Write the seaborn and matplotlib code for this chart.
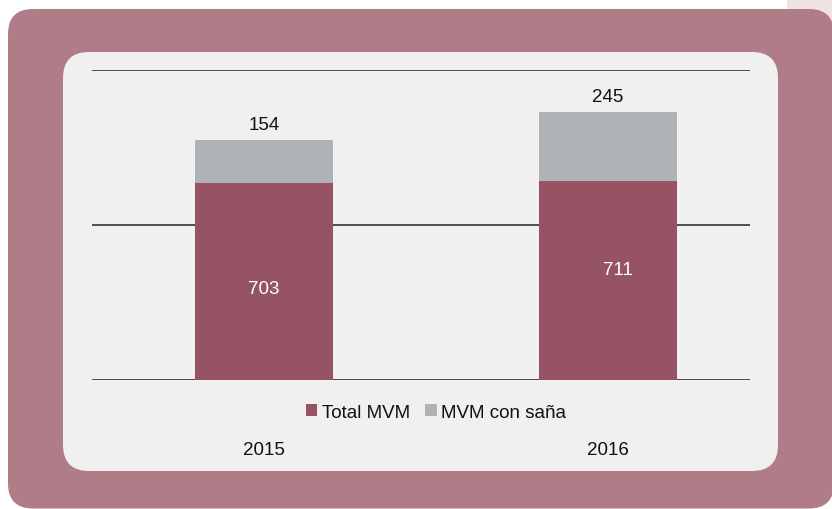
import matplotlib
matplotlib.use("Agg")
import matplotlib.pyplot as plt
import seaborn as sns
import pandas as pd
from matplotlib import font_manager
from matplotlib.patches import FancyBboxPatch, Rectangle, Patch

# ===========================
# Data
# ===========================
years = ["2015", "2016"]
total_mvm = [703, 711]
mvm_con_sana = [154, 245]
series_names = ["Total MVM", "MVM con saña"]

df = pd.DataFrame({"year": years, "total": total_mvm, "sana": mvm_con_sana})
df["stack"] = df["total"] + df["sana"]

# ===========================
# Style
# ===========================
RED = "#955364"
GRAY = "#b0b3b5"
OUTER = "#b07c87"
INNER = "#f0f0f0"
PINK = "#efe3e6"
TXT = "#111111"

sns.set_style("white")
installed = {f.name for f in font_manager.fontManager.ttflist}
if "Liberation Sans Narrow" in installed:
    plt.rcParams["font.family"] = ["Liberation Sans Narrow", "DejaVu Sans"]
    FS = 17
else:
    plt.rcParams["font.family"] = ["Liberation Sans", "DejaVu Sans"]
    FS = 13.5
plt.rcParams["text.color"] = TXT
plt.rcParams["xtick.color"] = TXT

fig = plt.figure(figsize=(8.32, 5.10), dpi=100)
fig.patch.set_facecolor("white")

# background panels (inches, origin bottom-left)
tr = fig.dpi_scale_trans
fig.patches.append(Rectangle((7.87, 4.7), 0.5, 0.5, transform=tr,
                             facecolor=PINK, edgecolor="none", zorder=-3))
fig.patches.append(FancyBboxPatch((0.08, 0.005), 8.26, 4.995,
                                  boxstyle="round,pad=0,rounding_size=0.25",
                                  transform=tr, facecolor=OUTER,
                                  edgecolor="none", zorder=-2))
fig.patches.append(FancyBboxPatch((0.63, 0.38), 7.15, 4.19,
                                  boxstyle="round,pad=0,rounding_size=0.26",
                                  transform=tr, facecolor=INNER,
                                  edgecolor="none", zorder=-1))

ax = fig.add_axes([0.1106, 0.2529, 0.7909, 0.6078])
ax.set_facecolor("none")

# ===========================
# Stacked bars
# ===========================
sns.barplot(data=df, x="year", y="stack", color=GRAY, width=0.4,
            linewidth=0, saturation=1, ax=ax)
sns.barplot(data=df, x="year", y="total", color=RED, width=0.4,
            linewidth=0, saturation=1, ax=ax)

ax.set_xlim(-0.5, 1.413)
ax.set_ylim(0, 1106)
ax.set_yticks([0, 553, 1106])
ax.set_yticklabels([])
ax.yaxis.grid(True, color="#333333", linewidth=1.2)
ax.set_axisbelow(True)
for s in ax.spines.values():
    s.set_visible(False)
ax.set_xlabel("")
ax.set_ylabel("")
ax.tick_params(axis="x", length=0, pad=44, labelsize=FS, labelcolor=TXT)
ax.tick_params(axis="y", length=0)

# value labels
ax.bar_label(ax.containers[0], labels=[str(v) for v in mvm_con_sana],
             padding=5, fontsize=FS, color=TXT)
offsets = [(0, -5), (7, 8)]
for i, v in enumerate(total_mvm):
    ax.annotate(str(v), (i, v / 2), xytext=offsets[i], textcoords="offset points",
                ha="center", va="center", color="white", fontsize=FS)

# legend
handles = [Patch(facecolor=RED, edgecolor="none"),
           Patch(facecolor=GRAY, edgecolor="none")]
fig.legend(handles, series_names, loc="center", bbox_to_anchor=(0.524, 0.190),
           ncol=2, frameon=False, fontsize=FS, handlelength=0.62,
           handleheight=0.62, handletextpad=0.25, columnspacing=0.8,
           labelcolor=TXT)

plt.savefig("out.png", dpi=100)
plt.close()
